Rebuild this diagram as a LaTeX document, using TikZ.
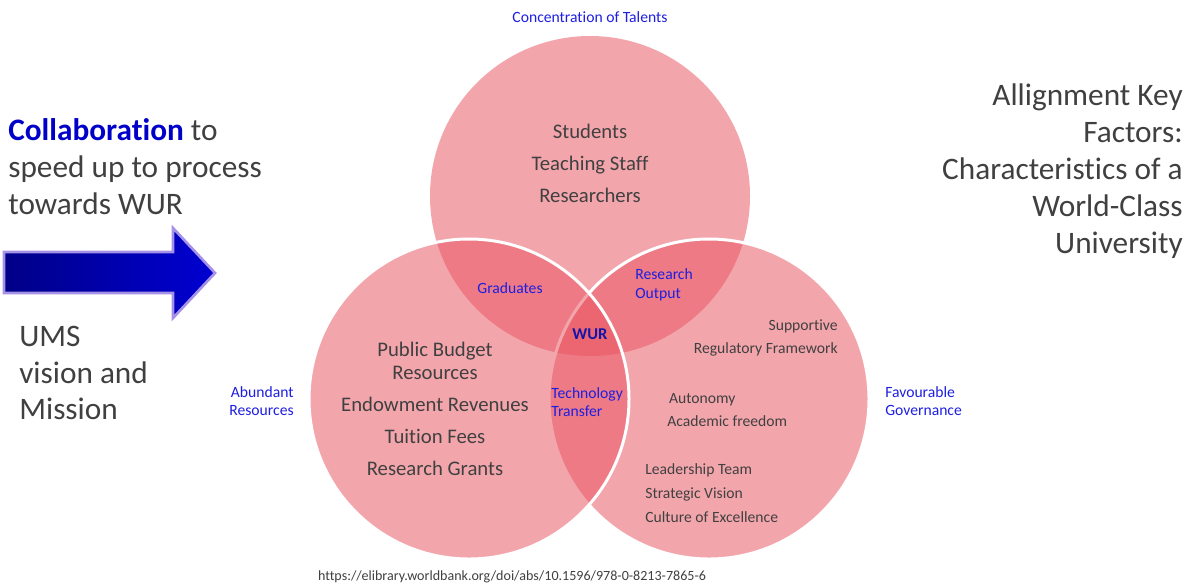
\documentclass[tikz,border=0pt]{standalone}
\usepackage{fontspec}
\setmainfont{Carlito}[Ligatures=NoCommon]
\usetikzlibrary{positioning}

\definecolor{venn}{RGB}{232,83,96}
\definecolor{greytext}{RGB}{64,64,64}
\definecolor{tagblue}{RGB}{30,30,225}
\definecolor{wurblue}{RGB}{20,20,170}
\definecolor{boldblue}{RGB}{0,0,200}
\definecolor{arrowdark}{RGB}{0,0,135}
\definecolor{arrowlight}{RGB}{0,0,210}
\definecolor{arrowrim}{RGB}{165,145,230}

\begin{document}
\begin{tikzpicture}[x=0.02cm,y=-0.02cm]
  \tikzset{
  	ring/.style={fill=venn, fill opacity=0.52, draw=white, line width=1.7pt},
  	bigtext/.style={text=greytext, font=\fontsize{17.8}{21}\selectfont, inner sep=0pt},
  	listtext/.style={text=greytext, font=\fontsize{11.8}{13.1}\selectfont, align=center, inner sep=0pt},
  	smalltext/.style={text=greytext, font=\fontsize{8.9}{13.6}\selectfont, inner sep=0pt},
  	tag/.style={text=tagblue, font=\fontsize{8.9}{10.6}\selectfont, inner sep=0pt},
  }
  \useasboundingbox (0,0) rectangle (1189,586);
  \coordinate (top) at (590,196);   % talents
  \coordinate (left) at (469,399);  % resources
  \coordinate (right) at (709,399); % governance

  % Draw the three circles first, the top one without a rim.
  \fill[venn, fill opacity=0.52] (top) circle (160);
  \draw[ring] (right) circle (160);
  \draw[ring] (left) circle (160);

  % Texts inside the circles.
  \node[listtext, font=\fontsize{11.8}{18.2}\selectfont] (talentlist) at (590,163) {Students\\Teaching Staff\\Researchers};
  \node[listtext] (resourcelist) at (435,409) {Public Budget\\Resources\\[5.1pt]Endowment Revenues\\[5.1pt]Tuition Fees\\[5.1pt]Research Grants};
  \node[smalltext, align=right, anchor=east] (support) at (838,338) {Supportive\\Regulatory Framework};
  \node[smalltext, align=left, anchor=west] (autonomy) at (667,410) {\hspace{1pt}Autonomy\\Academic freedom};
  \node[smalltext, align=left, anchor=west] (leaders) at (645,493) {Leadership Team\\Strategic Vision\\Culture of Excellence};

  % Overlaps.
  \node[tag] (graduates) at (510,288) {Graduates};
  \node[tag, align=left, anchor=west] (output) at (635,285) {Research\\Output};
  \node[tag, align=left, anchor=west] (transfer) at (551,402) {Technology\\Transfer};
  \node[tag, text=wurblue, font=\fontsize{9.4}{11}\selectfont\bfseries] (wur) at (590,334) {WUR};

  % Circle labels outside.
  \node[tag] (talents) at (590,17) {Concentration of Talents};
  \node[tag, align=right, anchor=east] (abundant) at (294,401) {Abundant\\Resources};
  \node[tag, align=left, anchor=west] (favour) at (885,401) {Favourable\\Governance};

  % The arrow and the side texts.
  \draw[left color=arrowdark, right color=arrowlight, draw=arrowrim, line width=1.5pt, line join=miter]
    (4,252) -- (173,252) -- (173,228) -- (215,273) -- (173,318) -- (173,293) -- (4,293) -- cycle;
  \node[bigtext, align=left, anchor=west] (collab) at (8,167) {{\bfseries\color{boldblue}Collaboration} to\\speed up to process\\towards WUR};
  \node[bigtext, align=left, anchor=west] (ums) at (19,373) {UMS\\vision and\\Mission};
  \node[bigtext, align=right, anchor=east] (factors) at (1183,171) {Allignment Key\\Factors:\\Characteristics of a\\World-Class\\University};

  \node[smalltext, font=\fontsize{8}{10}\selectfont] (source) at (512,577) {https://elibrary.worldbank.org/doi/abs/10.1596/978-0-8213-7865-6};
\end{tikzpicture}
\end{document}
